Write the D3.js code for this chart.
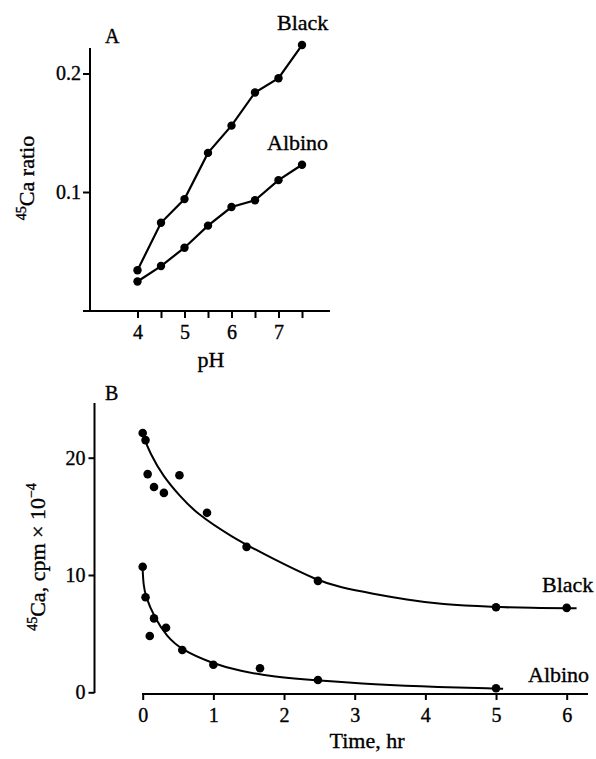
<!DOCTYPE html>
<html>
<head>
<meta charset="utf-8">
<script src="https://cdn.jsdelivr.net/npm/d3@7"></script>
<style>
  body { margin: 0; background: #fff; }
  text { font-family: "Liberation Serif", "Times New Roman", serif; fill: #000; stroke: #000; stroke-width: 0.35px; }
  .axis path, .axis line { stroke: #000; stroke-width: 2px; }
  .axis text { font-size: 20px; }
</style>
</head>
<body>
<div id="chart"></div>
<script>
// panel A data: pH vs 45Ca ratio
const phValues = [4, 4.5, 5, 5.5, 6, 6.5, 7, 7.5];
const blackRatio = [0.034, 0.074, 0.094, 0.133, 0.156, 0.184, 0.196, 0.224];
const albinoRatio = [0.0245, 0.0375, 0.053, 0.0716, 0.0873, 0.093, 0.110, 0.123];

// panel B data: time (hr) vs 45Ca cpm x 10^-4
const blackTime = [0, 0.04, 0.07, 0.16, 0.30, 0.52, 0.91, 1.47, 2.48, 5, 6];
const blackCpm = [22.1, 21.5, 18.6, 17.5, 17.0, 18.5, 15.3, 12.4, 9.5, 7.25, 7.2];
const albinoTime = [0, 0.04, 0.1, 0.16, 0.33, 0.56, 1, 1.66, 2.48, 5];
const albinoCpm = [10.7, 8.1, 4.8, 6.3, 5.5, 3.6, 2.35, 2.05, 1.05, 0.34];

// fitted curves
const blackFitTime = [0, 0.1, 0.29, 0.53, 0.76, 1.24, 1.85, 2.48, 2.79, 3.26, 3.74, 4.21, 4.98, 5.48, 6.14];
const blackFitCpm = [22.0, 20.4, 18.4, 16.7, 15.26, 13.3, 11.35, 9.51, 8.95, 8.4, 7.9, 7.5, 7.27, 7.19, 7.16];
const albinoFitTime = [0, 0.01, 0.04, 0.16, 0.34, 0.56, 0.98, 1.38, 1.85, 2.48, 3.26, 4.21, 4.98, 5.1];
const albinoFitCpm = [10.4, 9.2, 8.2, 6.45, 4.74, 3.58, 2.47, 1.8, 1.33, 1.0, 0.66, 0.43, 0.34, 0.3];

const svgWidth = 596, svgHeight = 759;

let svg = d3.select("#chart").append("svg")
    .attr("width", svgWidth)
    .attr("height", svgHeight);

const zip = (xs, ys) => xs.map((x, i) => [x, ys[i]]);

// ---------- panel A ----------
let xA = d3.scaleLinear().domain([4, 7.5]).range([137.5, 302]);
let yA = d3.scaleLinear().domain([0, 0.2]).range([310.5, 73.5]);

// x axis
let xAxisA = svg.append("g")
    .attr("class", "axis")
    .attr("transform", "translate(0,311)")
    .call(d3.axisBottom(xA)
        .tickValues(phValues)
        .tickSize(7)
        .tickSizeOuter(0)
        .tickFormat((d) => Number.isInteger(d) ? d : ""));
xAxisA.select(".domain").attr("d", "M83,0H330");
xAxisA.selectAll(".tick text").attr("dy", 0).attr("y", 28);

// y axis
let yAxisA = svg.append("g")
    .attr("class", "axis")
    .attr("transform", "translate(90,0)")
    .call(d3.axisLeft(yA)
        .tickValues([0.1, 0.2])
        .tickSize(7)
        .tickSizeOuter(0)
        .tickFormat(d3.format(".1f")));
yAxisA.select(".domain").attr("d", "M0,48V312");
yAxisA.selectAll(".tick text").attr("x", -9);

svg.append("text").attr("x", 211).attr("y", 367).attr("text-anchor", "middle")
    .style("font-size", "22px").text("pH");

let yLabA = svg.append("text")
    .attr("transform", "translate(34,178) rotate(-90)")
    .attr("text-anchor", "middle")
    .style("font-size", "22px");
yLabA.append("tspan").style("font-size", "14px").attr("dy", -8).text("45");
yLabA.append("tspan").attr("dy", 8).text("Ca ratio");

svg.append("text").attr("x", 105).attr("y", 43).style("font-size", "20px").text("A");

let lineA = d3.line().x((d) => xA(d[0])).y((d) => yA(d[1]));
[blackRatio, albinoRatio].forEach((vals) => {
    let pts = zip(phValues, vals);
    svg.append("path").datum(pts)
        .attr("d", lineA)
        .attr("fill", "none")
        .attr("stroke", "#000")
        .attr("stroke-width", 2.2);
    svg.append("g").selectAll("circle")
        .data(pts)
        .join("circle")
        .attr("cx", (d) => xA(d[0]))
        .attr("cy", (d) => yA(d[1]))
        .attr("r", 4.2)
        .attr("fill", "#000");
});

svg.append("text").attr("x", 277).attr("y", 30).style("font-size", "22px").text("Black");
svg.append("text").attr("x", 267).attr("y", 150).style("font-size", "22px").text("Albino");

// ---------- panel B ----------
let xB = d3.scaleLinear().domain([0, 6]).range([142.7, 566.7]);
let yB = d3.scaleLinear().domain([0, 20]).range([692.3, 457.7]);

let xAxisB = svg.append("g")
    .attr("class", "axis")
    .attr("transform", "translate(0,694)")
    .call(d3.axisBottom(xB)
        .tickValues(d3.range(0, 7))
        .tickSize(6)
        .tickSizeOuter(0)
        .tickFormat(d3.format("d")));
xAxisB.select(".domain").attr("d", "M142,0H588");
xAxisB.selectAll(".tick text").attr("dy", 0).attr("y", 28);

let yAxisB = svg.append("g")
    .attr("class", "axis")
    .attr("transform", "translate(94.5,0)")
    .call(d3.axisLeft(yB)
        .tickValues([0, 10, 20])
        .tickSize(6)
        .tickSizeOuter(0));
yAxisB.select(".domain").attr("d", "M0,403V693");
yAxisB.selectAll(".tick text").attr("x", -9);

svg.append("text").attr("x", 367).attr("y", 748).attr("text-anchor", "middle")
    .style("font-size", "22px").text("Time, hr");

let yLabB = svg.append("text")
    .attr("transform", "translate(45,557) rotate(-90)")
    .attr("text-anchor", "middle")
    .style("font-size", "22px");
yLabB.append("tspan").style("font-size", "14px").attr("dy", -8).text("45");
yLabB.append("tspan").attr("dy", 8).text("Ca, cpm \u00d7 10");
yLabB.append("tspan").style("font-size", "14px").attr("dy", -9).text("\u22124");

svg.append("text").attr("x", 105).attr("y", 400).style("font-size", "20px").text("B");

let fitLine = d3.line()
    .x((d) => xB(d[0]))
    .y((d) => yB(d[1]))
    .curve(d3.curveBasis);

svg.append("path").datum(zip(blackFitTime, blackFitCpm))
    .attr("d", fitLine).attr("fill", "none").attr("stroke", "#000").attr("stroke-width", 2);
svg.append("path").datum(zip(albinoFitTime, albinoFitCpm))
    .attr("d", fitLine).attr("fill", "none").attr("stroke", "#000").attr("stroke-width", 2);

[[blackTime, blackCpm], [albinoTime, albinoCpm]].forEach(([ts, vs]) => {
    svg.append("g").selectAll("circle")
        .data(zip(ts, vs))
        .join("circle")
        .attr("cx", (d) => xB(d[0]))
        .attr("cy", (d) => yB(d[1]))
        .attr("r", 4.3)
        .attr("fill", "#000");
});

svg.append("text").attr("x", 542).attr("y", 592).style("font-size", "22px").text("Black");
svg.append("text").attr("x", 528).attr("y", 682).style("font-size", "22px").text("Albino");
</script>
</body>
</html>
